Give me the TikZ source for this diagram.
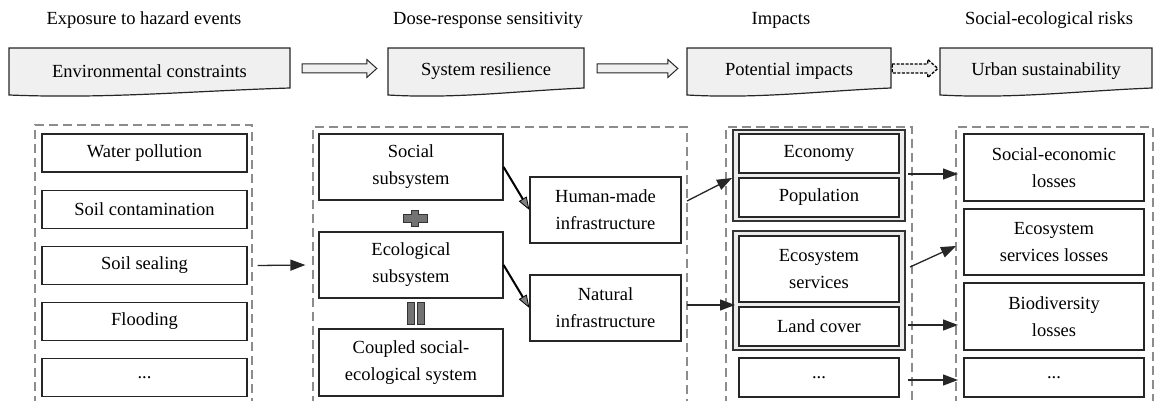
\documentclass[tikz,border=0pt]{standalone}
\usepackage{fontspec}
\setmainfont{Liberation Serif}
\usetikzlibrary{arrows.meta,calc}
\newcommand\bxfont{\fontsize{18.5pt}{27pt}\selectfont}
\tikzset{
  bx/.style={draw=black!85, line width=1.2pt, fill=white, inner sep=2pt, align=center, font=\bxfont},
  grp/.style={draw=black!80, line width=1.2pt, fill=black!8, inner sep=0pt},
  cont/.style={draw=black!45, line width=1.2pt, dash pattern=on 9pt off 5pt},
  conn/.style={line width=1.3pt, draw=black!85, -{Triangle[length=15pt,width=11pt]}},
  connb/.style={line width=2pt, draw=black, -{Triangle[length=13pt,width=9pt,fill=black!50,line width=0.8pt]}},
  hbox/.style={draw=black!85, line width=1.2pt, fill=black!6},
  hlab/.style={draw=none, inner sep=0pt, font=\bxfont},
  htitle/.style={anchor=base, inner sep=0pt, font=\bxfont},
  barw/.style={draw=black!85, line width=1pt, fill=black!6},
  dbarw/.style={draw=black, line width=1.3pt, fill=black!6, dash pattern=on 3pt off 1.5pt},
  symb/.style={draw=black!80, line width=1pt, fill=black!55}
}
% header document box: name, x1, x2, text
\newcommand\hdrbox[4]{%
  \pgfmathsetmacro\hw{#3-#2}%
  \draw[hbox] (#2,48) -- (#3,48) -- (#3,88) .. controls ({#2+0.65*(#3-#2)},91) and ({#2+0.35*(#3-#2)},99) .. (#2,95) -- cycle;
  \node[hlab, minimum width=\hw pt, minimum height=46pt] (#1) at ({(#2+#3)/2},71) {#4};}
% block arrow between header nodes: from, to, start gap, end gap, style
\newcommand\barrow[5]{%
  \draw[#5] let \p1=($(#1.east)+(#3,-2.5)$), \p2=($(#2.west)+(-#4,-2.5)$) in
    (\x1,\y1+4.5pt) -- (\x2-10pt,\y1+4.5pt) -- (\x2-10pt,\y1+9pt) -- (\x2,\y1)
    -- (\x2-10pt,\y1-9pt) -- (\x2-10pt,\y1-4.5pt) -- (\x1,\y1-4.5pt) -- cycle;}
\begin{document}
\begin{tikzpicture}[x=1pt,y=-1pt]
\useasboundingbox (0,0) rectangle (1154,401);
% titles
\node[htitle] (t1) at (144,25) {Exposure to hazard events};
\node[htitle] (t2) at (488,25) {Dose-response sensitivity};
\node[htitle] (t3) at (781,25) {Impacts};
\node[htitle] (t4) at (1049,25) {Social-ecological risks};
% header boxes
\hdrbox{h1}{9}{290}{Environmental constraints}
\hdrbox{h2}{388}{584}{System resilience}
\hdrbox{h3}{687}{891}{Potential impacts}
\hdrbox{h4}{940}{1152}{Urban sustainability}
\barrow{h1}{h2}{12}{11}{barw}
\barrow{h2}{h3}{13}{9}{barw}
\barrow{h3}{h4}{1}{2}{dbarw}
% dashed containers (open at the bottom)
\draw[cont] (35,405) -- (35,125) -- (252,125) -- (252,405);
\draw[cont] (313,405) -- (313,127) -- (687,127) -- (687,405);
\draw[cont] (726,405) -- (726,127) -- (912,127) -- (912,405);
\draw[cont] (956,405) -- (956,127) -- (1153,127) -- (1153,405);
% left column
\node[bx, minimum width=205pt, minimum height=38pt] (wp) at (144.5,153) {Water pollution};
\node[bx, minimum width=205pt, minimum height=38pt] (sc) at (144.5,209.5) {Soil contamination};
\node[bx, minimum width=205pt, minimum height=38pt] (ss) at (144.5,265.5) {Soil sealing};
\node[bx, minimum width=205pt, minimum height=38pt] (fl) at (144.5,321.5) {Flooding};
\node[bx, minimum width=205pt, minimum height=38pt] (d1) at (144.5,377.5) {...};
% middle column
\node[bx, minimum width=184pt, minimum height=66pt] (soc) at (411,167) {Social\\subsystem};
\node[bx, minimum width=184pt, minimum height=66pt] (eco) at (411,265) {Ecological\\subsystem};
\node[bx, minimum width=184pt, minimum height=67pt] (cpl) at (411,362.5) {Coupled social-\\ecological system};
\node[bx, minimum width=151pt, minimum height=66pt] (hum) at (605.5,210) {Human-made\\infrastructure};
\node[bx, minimum width=151pt, minimum height=66pt] (nat) at (605.5,308) {Natural\\infrastructure};
% plus and equal symbols
\draw[symb] (411.5,210) -- (418.5,210) -- (418.5,214) -- (427,214) -- (427,222) -- (418.5,222) -- (418.5,226)
  -- (411.5,226) -- (411.5,222) -- (403,222) -- (403,214) -- (411.5,214) -- cycle;
\draw[symb] (407,302) rectangle (414,324);
\draw[symb] (417,302) rectangle (424,324);
% impacts column
\node[grp, minimum width=172pt, minimum height=91pt] (g1) at (819,175.5) {};
\node[grp, minimum width=172pt, minimum height=119pt] (g2) at (819,290.5) {};
\node[bx, minimum width=160pt, minimum height=39pt] (econ) at (819,153.5) {Economy};
\node[bx, minimum width=160pt, minimum height=39pt] (pop) at (819,197.5) {Population};
\node[bx, minimum width=160pt, minimum height=66pt] (ess) at (819,269) {Ecosystem\\services};
\node[bx, minimum width=160pt, minimum height=39pt] (lc) at (819,326.5) {Land cover};
\node[bx, minimum width=160pt, minimum height=39pt] (d3) at (819,377.5) {...};
% risks column
\node[bx, minimum width=180pt, minimum height=67pt] (sel) at (1054,167.5) {Social-economic\\losses};
\node[bx, minimum width=180pt, minimum height=66pt] (esl) at (1054,242) {Ecosystem\\services losses};
\node[bx, minimum width=180pt, minimum height=67pt] (bdl) at (1054,316.5) {Biodiversity\\losses};
\node[bx, minimum width=180pt, minimum height=39pt] (d4) at (1054,377.5) {...};
% connectors
\draw[conn] ([xshift=10pt]ss.east) -- ([xshift=-13pt]eco.west);
\draw[connb] (soc.east) -- (hum.west);
\draw[connb] (eco.east) -- (nat.west);
\coordinate (q1) at (687,201); \coordinate (q2) at (732,178);
\coordinate (q3) at (687,305); \coordinate (q4) at (735,305);
\coordinate (r1) at (908,174); \coordinate (r2) at (958,174);
\coordinate (r3) at (910,267); \coordinate (r4) at (956,246);
\coordinate (r5) at (908,325); \coordinate (r6) at (958,325);
\coordinate (r7) at (908,380); \coordinate (r8) at (958,380);
\draw[conn] (q1) -- (q2);
\draw[conn] (q3) -- (q4);
\draw[conn] (r1) -- (r2);
\draw[conn] (r3) -- (r4);
\draw[conn] (r5) -- (r6);
\draw[conn] (r7) -- (r8);
\end{tikzpicture}
\end{document}
